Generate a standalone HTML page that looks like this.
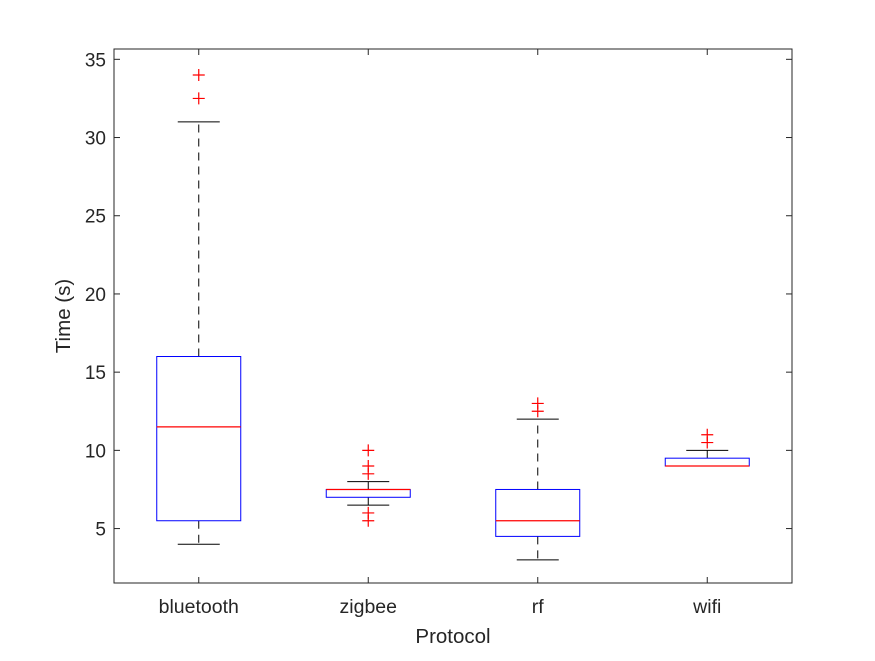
<!DOCTYPE html>
<html><head><meta charset="utf-8"><style>
body{margin:0;background:#fff;}
svg text{font-family:"Liberation Sans",Arial,sans-serif;fill:#262626;}
</style></head><body>
<svg id="chart" width="875" height="656" xmlns="http://www.w3.org/2000/svg">
<rect width="875" height="656" fill="#fff"/>
<g id="plot"></g>
</svg>
<script>
const categories=["bluetooth","zigbee","rf","wifi"];
const q1=[5.5,7,4.5,9];
const medians=[11.5,7.5,5.5,9];
const q3=[16,7.5,7.5,9.5];
const whiskLo=[4,6.5,3,9];
const whiskHi=[31,8,12,10];
const outliers=[[32.5,34],[10,9,8.5,6,5.5],[12.5,13],[10.5,11]];
const yTicks=[5,10,15,20,25,30,35];

const L=114,R=792,T=49,B=583,yMin=1.52,yMax=35.66;
const NS="http://www.w3.org/2000/svg";
const g=document.getElementById('plot');
const xs=i=>L+(i+0.5)*(R-L)/categories.length;
const ys=v=>B-(v-yMin)*(B-T)/(yMax-yMin);
function el(tag,attrs,parent){const e=document.createElementNS(NS,tag);for(const k in attrs)e.setAttribute(k,attrs[k]);(parent||g).appendChild(e);return e;}

const ax=el('rect',{x:L,y:T,width:R-L,height:B-T,fill:'none',stroke:'#262626','stroke-width':1});



yTicks.forEach(t=>{
  const y=ys(t);
  el('line',{x1:L,x2:L+6,y1:y,y2:y,stroke:'#262626'});
  el('line',{x1:R,x2:R-6,y1:y,y2:y,stroke:'#262626'});
  const tx=el('text',{x:L-8,y:y+7,'text-anchor':'end','font-size':19});
  tx.textContent=t;
  
  
});
categories.forEach((c,i)=>{
  const x=xs(i);
  el('line',{x1:x,x2:x,y1:B,y2:B-6,stroke:'#262626'});
  el('line',{x1:x,x2:x,y1:T,y2:T+6,stroke:'#262626'});
  const tx=el('text',{x:x,y:B+30,'text-anchor':'middle','font-size':19.5});
  tx.textContent=c;
  
  
  const bg=el('g',{});
  
  
  const hw=42,cw=21;
  el('line',{x1:x,x2:x,y1:ys(q3[i]),y2:ys(whiskHi[i]),stroke:'#000','stroke-dasharray':'8,6'},bg);
  el('line',{x1:x,x2:x,y1:ys(q1[i]),y2:ys(whiskLo[i]),stroke:'#000','stroke-dasharray':'8,6'},bg);
  el('line',{x1:x-cw,x2:x+cw,y1:ys(whiskHi[i]),y2:ys(whiskHi[i]),stroke:'#000'},bg);
  el('line',{x1:x-cw,x2:x+cw,y1:ys(whiskLo[i]),y2:ys(whiskLo[i]),stroke:'#000'},bg);
  el('rect',{x:x-hw,y:ys(q3[i]),width:2*hw,height:ys(q1[i])-ys(q3[i]),fill:'none',stroke:'#0000ff'},bg);
  el('line',{x1:x-hw,x2:x+hw,y1:ys(medians[i]),y2:ys(medians[i]),stroke:'#ff0000','stroke-width':1.3},bg);
  outliers[i].forEach(v=>{
    const y=ys(v);
    const o=el('path',{d:`M${x-6},${y}H${x+6}M${x},${y-6}V${y+6}`,stroke:'#ff0000','stroke-width':1.2},bg);
    
    
  });
});
const xt=el('text',{x:(L+R)/2,y:643,'text-anchor':'middle','font-size':20.5});
xt.textContent='Protocol';


const yt=el('text',{x:0,y:0,'text-anchor':'middle','font-size':20.5,transform:`translate(70,${(T+B)/2}) rotate(-90)`});
yt.textContent='Time (s)';


</script>
</body></html>
